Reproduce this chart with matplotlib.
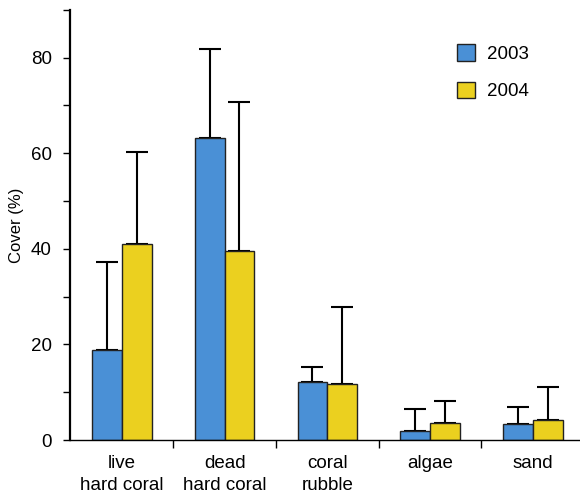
import matplotlib.pyplot as plt
import numpy as np
from matplotlib.patches import Patch

categories = ['live\nhard coral', 'dead\nhard coral', 'coral\nrubble', 'algae', 'sand']
years = ['2003', '2004']
cover_2003 = [18.8, 63.2, 12.1, 1.9, 3.4]
cover_2004 = [41.0, 39.6, 11.7, 3.6, 4.2]
err_2003 = [18.5, 18.7, 3.2, 4.6, 3.5]
err_2004 = [19.3, 31.2, 16.2, 4.6, 6.9]

blue = '#4a90d6'
yellow = '#ebd01f'

plt.rcParams['font.family'] = ['Liberation Sans', 'DejaVu Sans']

fig = plt.figure(figsize=(5.8, 4.94), dpi=100)
ax = fig.add_axes([0.1207, 0.1093, 0.8793, 0.8707])

x = np.arange(len(categories))
w = 0.29
ax.bar(x - w / 2, cover_2003, w, color=blue, edgecolor='#222222', linewidth=1.0, zorder=2)
ax.bar(x + w / 2, cover_2004, w, color=yellow, edgecolor='#222222', linewidth=1.0, zorder=2)
ax.errorbar(x - w / 2, cover_2003, yerr=[np.zeros(5), err_2003], fmt='none',
            ecolor='black', elinewidth=1.5, capsize=8, capthick=1.5, zorder=1)
ax.errorbar(x + w / 2, cover_2004, yerr=[np.zeros(5), err_2004], fmt='none',
            ecolor='black', elinewidth=1.5, capsize=8, capthick=1.5, zorder=1)

ax.set_xlim(-0.505, 4.46)
ax.set_ylim(0, 90)
ax.set_yticks([0, 20, 40, 60, 80])
ax.set_yticks([10, 30, 50, 70, 90], minor=True)
ax.tick_params(axis='y', which='both', length=5, width=1, pad=8, labelsize=13.5)
ax.set_xticks(x[:-1] + 0.5)
ax.set_xticklabels([])
ax.tick_params(axis='x', length=6, width=1)
for xi, lab in zip(x, categories):
    ax.text(xi, -3.2, lab, ha='center', va='top', fontsize=13.5, linespacing=1.35,
            transform=ax.transData)

ax.set_ylabel('Cover (%)', fontsize=12, labelpad=5)

for s in ['top', 'right']:
    ax.spines[s].set_visible(False)
ax.spines['left'].set_linewidth(1.6)
ax.spines['bottom'].set_linewidth(1.0)

handles = [Patch(facecolor=blue, edgecolor='#222222'), Patch(facecolor=yellow, edgecolor='#222222')]
ax.legend(handles, years, frameon=False, fontsize=13.5, loc='upper left',
          bbox_to_anchor=(0.725, 0.96), handlelength=1.0, handleheight=1.0,
          labelspacing=1.0, handletextpad=0.6)

fig.savefig('out.png', dpi=100)
